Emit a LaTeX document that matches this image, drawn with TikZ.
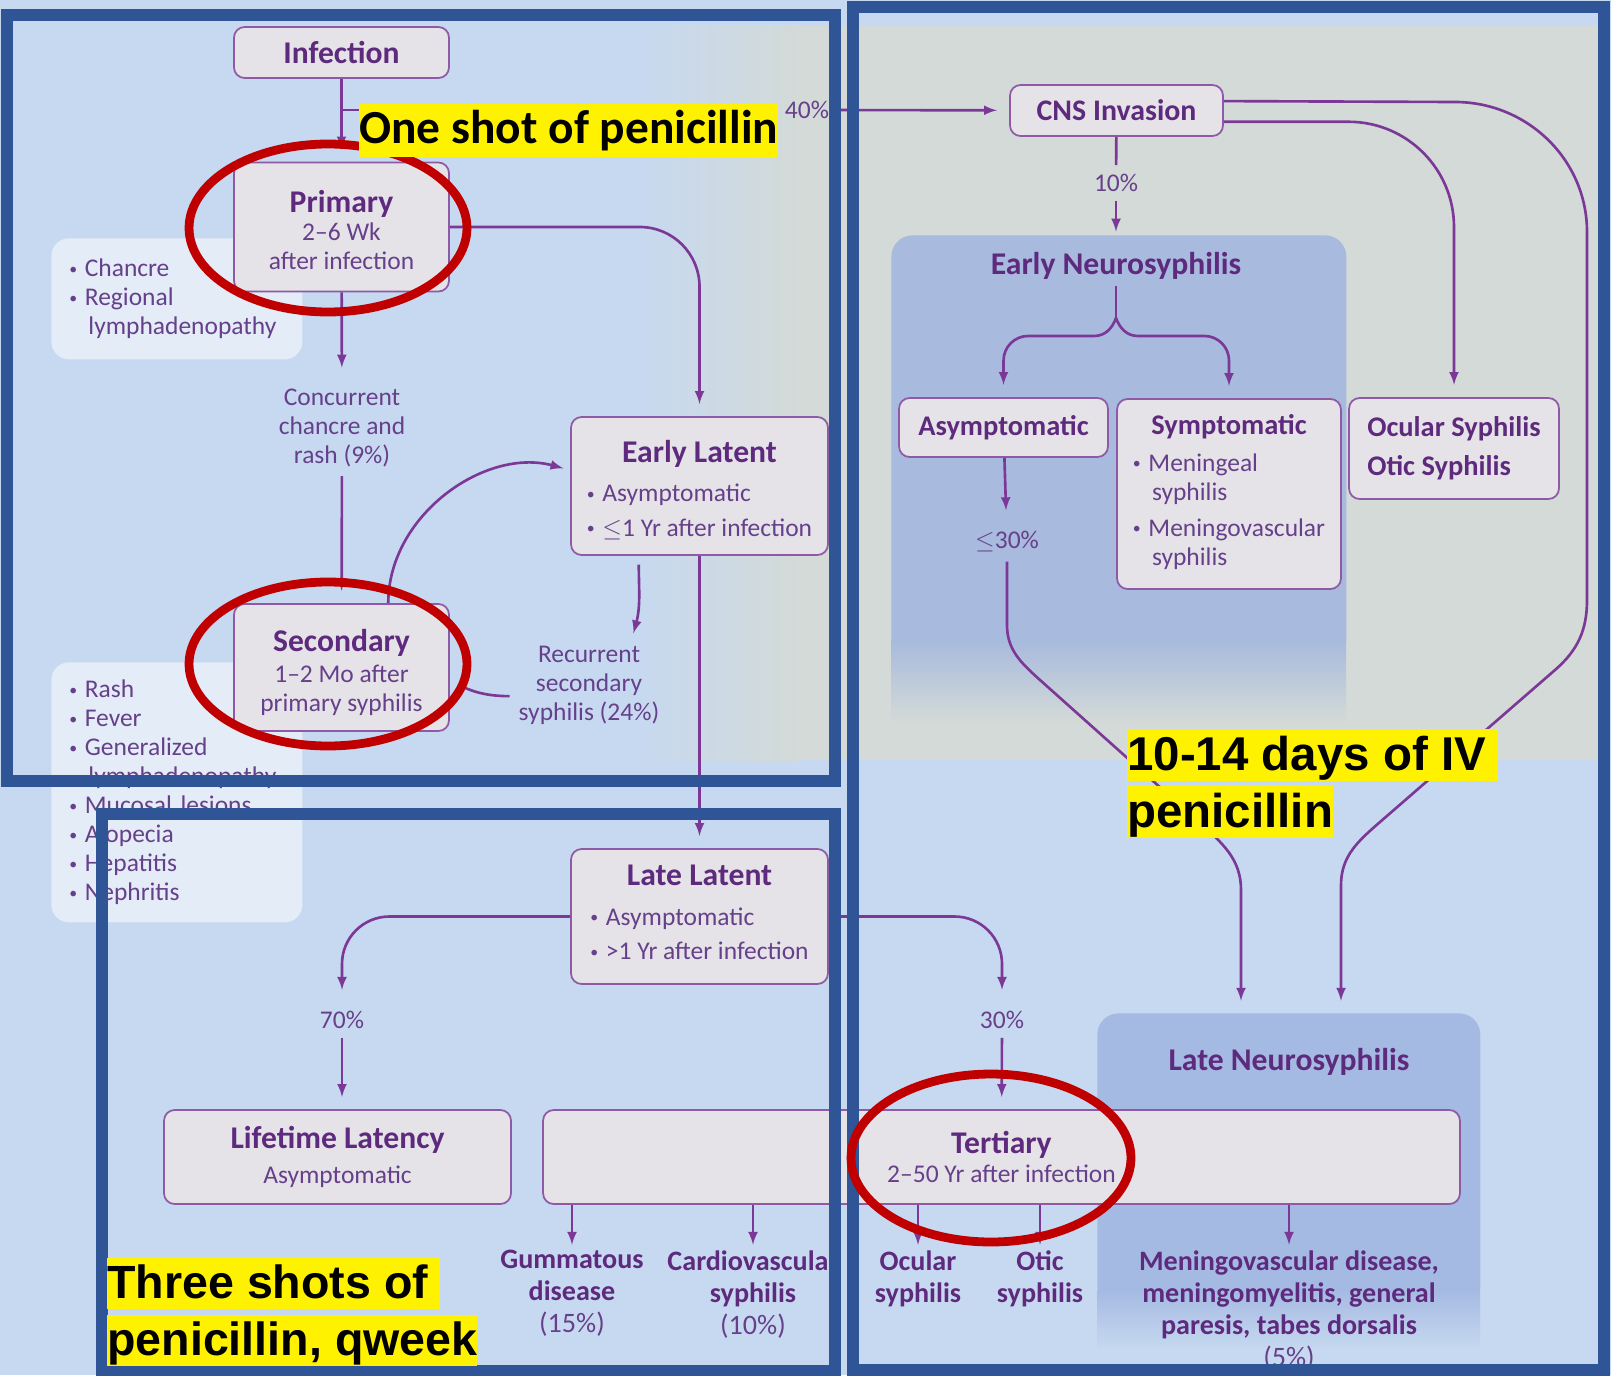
\documentclass[tikz,border=0pt]{standalone}
\usepackage{fontspec}
\setmainfont{Carlito}
\newfontfamily\arialfont{Liberation Sans}
\usetikzlibrary{arrows}

\definecolor{bgblue}{HTML}{C7D9F0}
\definecolor{greypanel}{HTML}{D3DAD7}
\definecolor{enblue}{HTML}{A8BADD}
\definecolor{lnblue}{HTML}{A5BAE2}
\definecolor{boxfill}{HTML}{E5E3E8}
\definecolor{boxline}{HTML}{8E5AA6}
\definecolor{titletext}{HTML}{5E2A7E}
\definecolor{bodytext}{HTML}{66408A}
\definecolor{flowc}{HTML}{7B3896}
\definecolor{framec}{HTML}{2F5597}
\definecolor{ringc}{HTML}{C00000}

\newcommand{\ttlfont}{\fontsize{18}{21}\selectfont\bfseries}
\newcommand{\subfont}{\fontsize{16.2}{19}\selectfont\bfseries}
\newcommand{\bodyfont}{\fontsize{14.5}{16.5}\selectfont}
\newcommand{\ttl}[1]{{\ttlfont\color{titletext}#1}}
\newcommand{\itm}{\raisebox{0.2ex}{\fontsize{9}{9}\selectfont\textbullet}\hspace{0.3em}}

\begin{document}
\begin{tikzpicture}[x=0.02cm, y=-0.02cm]
    % Setup the styles
        \tikzset{stage/.style={draw=boxline, fill=boxfill, line width=1pt,
                               rounded corners=6pt, inner sep=0pt, align=center,
                               font=\bodyfont, text=bodytext},
                 headbox/.style={stage, font=\ttlfont, text=titletext},
                 panel/.style={rounded corners=12pt, inner sep=0pt, anchor=north west},
                 note/.style={fill=white, fill opacity=0.5, text opacity=1,
                              rounded corners=10pt, align=left, font=\bodyfont,
                              text=bodytext, text width=4.3cm, inner xsep=0.36cm,
                              anchor=north west, minimum width=5.02cm},
                 pct/.style={font=\bodyfont, text=bodytext, align=center, inner sep=5pt},
                 outcome/.style={font=\fontsize{16}{18.2}\selectfont\bfseries,
                                 text=titletext, align=center, anchor=north, inner sep=0pt},
                 flow/.style={draw=flowc, line width=1.5pt},
                 leads/.style={flow, ->, >=latex, shorten >=7pt},
                 frame/.style={draw=framec, line width=6.8pt},
                 ring/.style={draw=ringc, line width=5pt},
                 highlight/.style={fill=yellow, inner sep=0pt, anchor=north west, text=black}}
        % Background
        \useasboundingbox (0,0) rectangle (1611,1375);
        \fill[bgblue] (0,0) rectangle (1611,1375);
        \shade[left color=bgblue, right color=greypanel] (640,26) rectangle (800,760);
        \fill[greypanel] (800,26) rectangle (1598,760);
        % Draw the panels
        \node[panel, fill=enblue, minimum width=9.1cm, minimum height=8.5cm] at (891,235) (early) {};
        \shade[top color=enblue, bottom color=greypanel] (891,640) rectangle (1346,722);
        \node[panel, fill=lnblue, minimum width=7.66cm, minimum height=5.9cm] at (1097,1013) (late) {};
        \shade[top color=lnblue, bottom color=bgblue] (1097,1290) rectangle (1480,1350);
        \node[note, minimum height=2.42cm] at (51,238) (chancre)
            {\itm Chancre\\ \itm Regional\\ \hspace*{0.75em}lymphadenopathy};
        \node[note, minimum height=5.2cm] at (51,662) (rash)
            {\itm Rash\\ \itm Fever\\ \itm Generalized\\ \hspace*{0.75em}lymphadenopathy\\
             \itm Mucosal lesions\\ \itm Alopecia\\ \itm Hepatitis\\ \itm Nephritis};
        % Draw the stages
        \node[headbox, minimum width=4.3cm, minimum height=1.02cm] at (341.5,52.5) (inf) {Infection};
        \node[stage, minimum width=4.3cm, minimum height=2.58cm] at (341.5,227) (prim)
            {\rule{0pt}{16pt}\ttl{Primary}\\[-1pt] 2--6 Wk\\ after infection};
        \node[stage, minimum width=4.3cm, minimum height=2.54cm] at (341.5,667.5) (sec)
            {\rule{0pt}{18pt}\ttl{Secondary}\\[1pt] 1--2 Mo after\\ primary syphilis};
        \node[stage, minimum width=5.14cm, minimum height=2.76cm] at (699.5,486) (elat)
            {\rule{0pt}{20pt}\ttl{Early Latent}\\[7pt]
             \begin{tabular}{@{}l@{}}\itm Asymptomatic\\[3pt] \itm \ensuremath{\leq}1 Yr after infection\end{tabular}};
        \node[stage, minimum width=5.14cm, minimum height=2.70cm] at (699.5,916.5) (llat)
            {\ttl{Late Latent}\\[10pt]
             \begin{tabular}{@{}l@{}}\itm Asymptomatic\\[3pt] \itm >1 Yr after infection\end{tabular}};
        \node[stage, minimum width=6.94cm, minimum height=1.88cm] at (337.5,1157) (life)
            {\ttl{Lifetime Latency}\\[3pt] Asymptomatic};
        \node[stage, minimum width=18.34cm, minimum height=1.88cm] at (1001.5,1157) (tert)
            {\ttl{Tertiary}\\[0pt] 2--50 Yr after infection};
        \node[headbox, font=\fontsize{17}{20}\selectfont\bfseries, minimum width=4.26cm,
              minimum height=1.02cm] at (1116.5,110.5) (cns) {CNS Invasion};
        \node[headbox, font=\subfont, minimum width=4.18cm, minimum height=1.18cm]
            at (1003.5,427.5) (asym) {Asymptomatic};
        \node[stage, minimum width=4.48cm, minimum height=3.8cm] at (1229,494) (symp)
            {{\subfont\color{titletext}Symptomatic}\\[6pt]
             \begin{tabular}{@{}l@{}}\itm Meningeal\\ \hspace*{0.75em}syphilis\\[4pt]
             \itm Meningovascular\\ \hspace*{0.75em}syphilis\end{tabular}};
        \node[headbox, font=\subfont, align=left, minimum width=4.2cm, minimum height=2.02cm]
            at (1454,448.5) (ocu) {Ocular Syphilis\\[3pt] Otic Syphilis};
        % Draw the labels
        \node[font=\ttlfont, text=titletext] at (1116,266) (entitle) {Early Neurosyphilis};
        \node[font=\ttlfont, text=titletext] at (1289,1062) (lntitle) {Late Neurosyphilis};
        \node[pct] at (807,110) (p40) {40\%};
        \node[pct] at (342,428) (conc) {Concurrent\\ chancre and\\ rash (9\%)};
        \node[pct] at (589,685) (recur) {Recurrent\\ secondary\\ syphilis (24\%)};
        \node[pct] at (342,1020) (p70) {70\%};
        \node[pct] at (1002,1020) (p30) {30\%};
        \node[pct] at (1116,183) (p10) {10\%};
        \node[pct] at (1007,542) (le30) {\ensuremath{\leq}30\%};
        \node[outcome] at (572,1250) (gum) {Gummatous\\ disease\\ {\mdseries\color{bodytext}(15\%)}};
        \node[outcome] at (753,1250) (cardio) {Cardiovascular\\ syphilis\\ {\mdseries\color{bodytext}(10\%)}};
        \node[outcome] at (918,1250) (ocs) {Ocular\\ syphilis};
        \node[outcome] at (1040,1250) (ots) {Otic\\ syphilis};
        \node[outcome] at (1289,1250) (menin) {Meningovascular disease,\\ meningomyelitis, general\\
            paresis, tabes dorsalis\\ {\mdseries\color{bodytext}(5\%)}};
        % Connect the stages with arrows
        \coordinate (split) at (inf.south |- p40);
        \coordinate (fork) at (1116,318);
        \coordinate (lnin1) at (1241,1013);
        \coordinate (lnin2) at (1341,1013);
        \draw[leads] (inf) -- (prim);
        \draw[flow] (split) -- (p40);
        \draw[leads] (p40) -- (cns);
        \draw[leads] (prim) -- (conc);
        \draw[leads] (conc) -- (sec);
        \draw[leads, rounded corners=34pt] (prim.east) -| (elat.north);
        \draw[leads, shorten >=4pt] (sec.54) to[out=90, in=165] (elat.173);
        \draw[leads, shorten <=5pt, shorten >=2pt] (elat.229) to[out=-90, in=75] (recur.48);
        \draw[flow, shorten >=8pt] (recur.188) to[out=180, in=-25] (sec.-7);
        \draw[leads] (elat) -- (llat);
        \draw[leads, rounded corners=27pt] (llat.west) -| (p70);
        \draw[leads] (p70) -- (p70 |- life.north);
        \draw[leads, rounded corners=27pt] (llat.east) -| (p30);
        \draw[leads] (p30) -- (tert);
        \foreach \out in {gum, cardio, ocs, ots, menin}
            \draw[leads, shorten >=3pt] (tert.south -| \out.north) -- (\out.north);
        \draw[flow] (cns) -- (p10);
        \draw[leads, shorten >=2pt] (p10) -- (p10 |- early.north);
        \draw[flow] (entitle) -- (fork);
        \draw[leads] (fork) to[out=-110, in=0] (1094,336) [rounded corners=14pt] -| (asym);
        \draw[leads] (fork) to[out=-70, in=180] (1138,336) [rounded corners=14pt] -| (symp);
        \draw[leads] (asym) -- (le30);
        \draw[leads] (le30) -- (1007,625) to[out=-90, in=138] (1040,680) -- (1200,823)
            to[out=-42, in=90] (1241,890) -- (lnin1);
        \draw[leads, rounded corners=60pt] (cns.-6) -| (ocu);
        \draw[leads] (cns.5) -- (1455,102) to[out=0, in=90] (1587,232) -- (1587,600)
            to[out=-90, in=41] (1555,670) -- (1380,822) to[out=-139, in=90] (1341,885) -- (lnin2);
        % Draw the frames and rings
        \draw[frame] (7,15) rectangle (835,781);
        \draw[frame] (102,814) rectangle (835,1371);
        \draw[frame] (853,7) rectangle (1604,1370);
        \draw[ring] (328,228) ellipse [x radius=2.78cm, y radius=1.68cm];
        \draw[ring] (328,664) ellipse [x radius=2.78cm, y radius=1.64cm];
        \draw[ring] (991,1158) ellipse [x radius=2.8cm, y radius=1.68cm];
        % Draw the notes on treatment
        \node[highlight, font=\fontsize{27}{30}\selectfont\bfseries, text height=22pt, text depth=8pt]
            at (359,104) (shot1) {One shot of penicillin};
        \node[highlight, font=\arialfont\fontsize{27}{30}\selectfont\bfseries, text height=23.5pt, text depth=6pt]
            at (1127,729) (iv1) {10-14 days of IV\hspace*{7pt}};
        \node[highlight, font=\arialfont\fontsize{27}{30}\selectfont\bfseries, text height=23.5pt, text depth=6pt]
            at (1127,786) (iv2) {penicillin};
        \node[highlight, font=\arialfont\fontsize{26.5}{30}\selectfont\bfseries, text height=23pt, text depth=6pt]
            at (107,1258) (shot3a) {Three shots of\hspace*{7pt}};
        \node[highlight, font=\arialfont\fontsize{26.5}{30}\selectfont\bfseries, text height=23pt, text depth=6pt]
            at (107,1315) (shot3b) {penicillin, qweek};
\end{tikzpicture}
\end{document}
